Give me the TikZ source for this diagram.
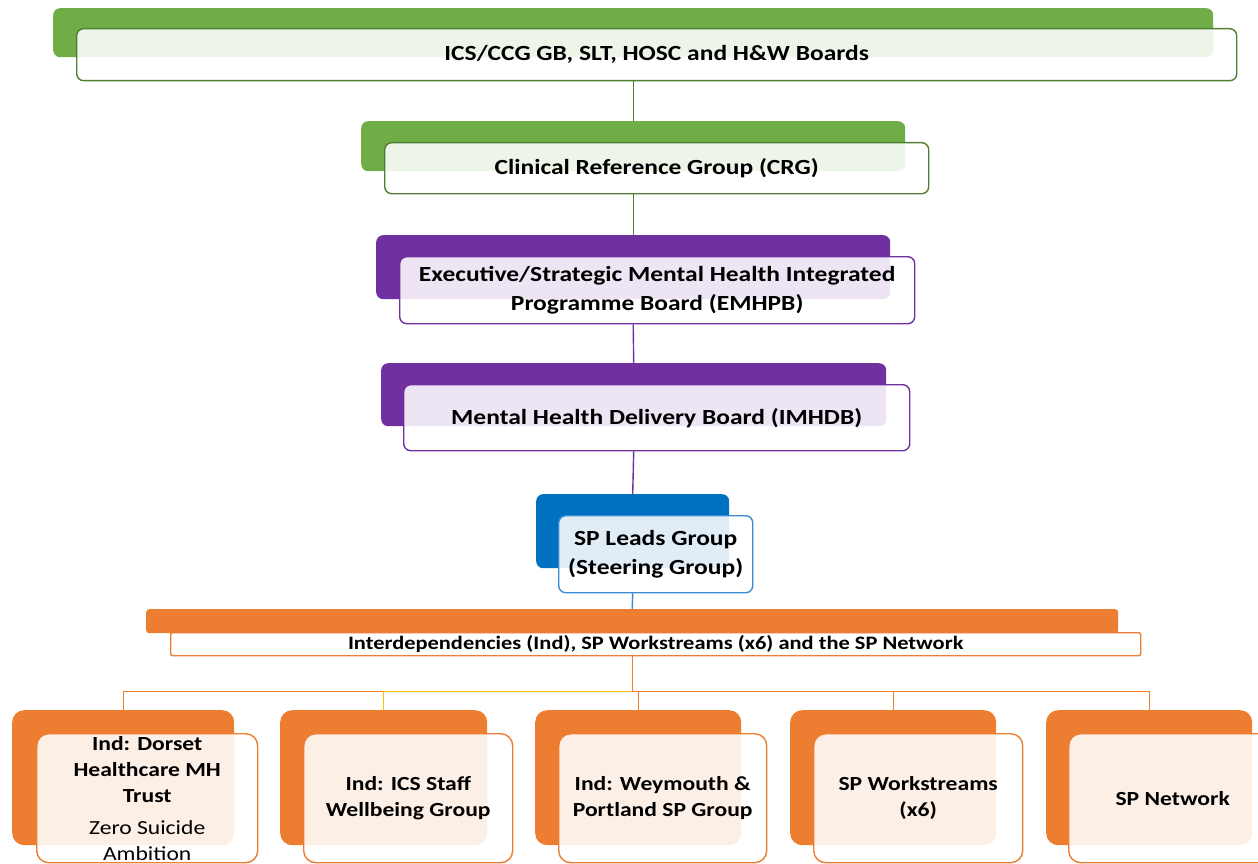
\documentclass[tikz,border=0pt]{standalone}
\usepackage{fontspec}
\setmainfont{Carlito}[FakeStretch=1.18]
\usepackage{xcolor}
\usepackage{tikz}
\usetikzlibrary{positioning}

\definecolor{grn}{HTML}{70AD47}
\definecolor{grndark}{HTML}{507E32}
\definecolor{purp}{HTML}{7030A0}
\definecolor{blu}{HTML}{0070C0}
\definecolor{blulight}{HTML}{3A8BD6}
\definecolor{orng}{HTML}{ED7D31}
\definecolor{yel}{HTML}{FFC000}

\begin{document}
\begin{tikzpicture}[x=1pt,y=-1pt,
  back/.style={fill=#1,draw=none,rounded corners=7pt,anchor=north west,inner sep=0pt},
  front/.style={draw=#1,fill=white,fill opacity=0.88,text opacity=1,line width=1.4pt,
    rounded corners=7pt,anchor=north west,inner sep=0pt,align=center,
    font=\fontsize{21.6}{28.5}\selectfont\bfseries},
  small/.style={font=\fontsize{20}{26}\selectfont\bfseries},
  link/.style={draw=#1,line width=1.4pt}]
  \useasboundingbox (0,0) rectangle (1258,864);
  \clip (0,0) rectangle (1258,864);
  % boards
  \node[back=grn,minimum width=1160pt,minimum height=49pt] (icsback) at (53,8) {};
  \node[front=grndark,minimum width=1160pt,minimum height=52pt] (ics) at (76,28) {ICS/CCG GB, SLT, HOSC and H\&W Boards};
  \node[back=grn,minimum width=544pt,minimum height=50pt] (crgback) at (361,121) {};
  \node[front=grndark,minimum width=544pt,minimum height=51pt] (crg) at (384,142) {Clinical Reference Group (CRG)};
  \node[back=purp,minimum width=514pt,minimum height=64pt] (emhpbback) at (376,235) {};
  \node[front=purp,minimum width=515pt,minimum height=67pt] (emhpb) at (399,256) {Executive/Strategic Mental Health Integrated\\Programme Board (EMHPB)};
  \node[back=purp,minimum width=505pt,minimum height=63pt] (imhdbback) at (381,363) {};
  \node[front=purp,minimum width=506pt,minimum height=66pt] (imhdb) at (403,384) {Mental Health Delivery Board (IMHDB)};
  \node[back=blu,minimum width=193pt,minimum height=74pt] (leadsback) at (536,494) {};
  \node[front=blulight,minimum width=194pt,minimum height=77pt] (leads) at (558,515) {SP Leads Group\\(Steering Group)};
  \node[back=orng,rounded corners=3pt,minimum width=972pt,minimum height=24pt] (indback) at (146,609) {};
  \node[front=orng,rounded corners=2pt,minimum width=970pt,minimum height=23pt,font=\fontsize{19}{22}\selectfont\bfseries] (ind) at (170,632) {Interdependencies (Ind), SP Workstreams (x6) and the SP Network};
  % interdependencies
  \node[back=orng,rounded corners=12pt,minimum width=222pt,minimum height=135pt] (dorsetback) at (12,710) {};
  \node[front=orng,small,rounded corners=12pt,minimum width=221pt,minimum height=129pt] (dorset) at (36,733) {Ind: Dorset\\Healthcare MH\\Trust\\[6pt]{\mdseries Zero Suicide}\\{\mdseries Ambition}};
  \node[back=orng,rounded corners=12pt,minimum width=207pt,minimum height=135pt] (staffback) at (280,710) {};
  \node[front=orng,small,rounded corners=12pt,minimum width=209pt,minimum height=129pt] (staff) at (303,733) {Ind: ICS Staff\\Wellbeing Group};
  \node[back=orng,rounded corners=12pt,minimum width=206pt,minimum height=135pt] (weyback) at (535,710) {};
  \node[front=orng,small,rounded corners=12pt,minimum width=208pt,minimum height=129pt] (wey) at (558,733) {Ind: Weymouth \&\\Portland SP Group};
  \node[back=orng,rounded corners=12pt,minimum width=206pt,minimum height=135pt] (workback) at (790,710) {};
  \node[front=orng,small,rounded corners=12pt,minimum width=209pt,minimum height=129pt] (work) at (813,733) {SP Workstreams\\(x6)};
  \node[back=orng,rounded corners=12pt,minimum width=206pt,minimum height=135pt] (netback) at (1046,710) {};
  \node[front=orng,small,rounded corners=12pt,minimum width=208pt,minimum height=129pt] (net) at (1068,733) {SP Network};
  % links
  \draw[link=grndark] (icsback.south |- ics.south) -- (crgback.north);
  \draw[link=grndark] (crgback.south |- crg.south) -- (emhpbback.north);
  \draw[link=purp] (emhpbback.south |- emhpb.south) -- (imhdbback.north);
  \draw[link=purp] (imhdbback.south |- imhdb.south) -- (leadsback.north);
  \draw[link=blulight] (leadsback.south |- leads.south) -- (indback.north);
  \foreach \k in {dorsetback,weyback,workback,netback}
    \draw[link=orng] (indback.south |- ind.south) -- ++(0,35) -| (\k.north);
  \draw[link=yel] (indback.south |- ind.south) ++(0,35) -| (staffback.north);
\end{tikzpicture}
\end{document}
